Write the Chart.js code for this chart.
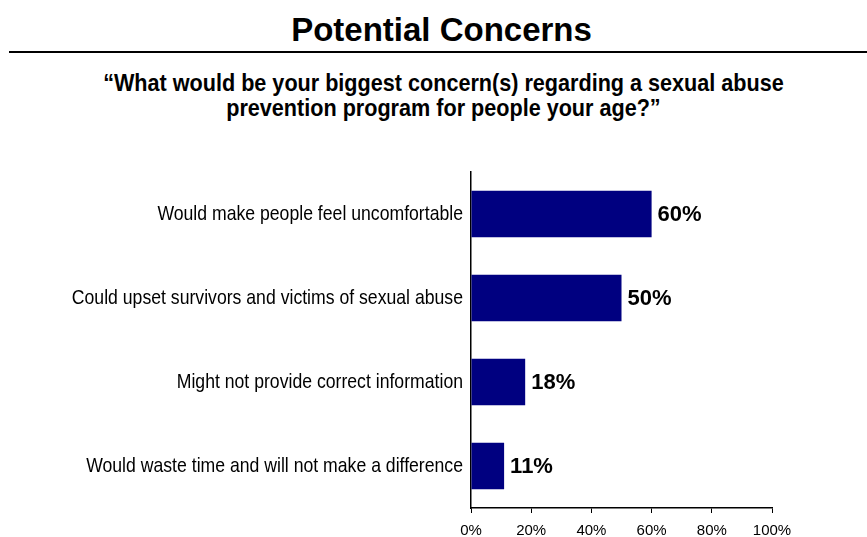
<!DOCTYPE html>
<html>
<head>
<meta charset="utf-8">
<script src="https://cdn.jsdelivr.net/npm/chart.js@4/dist/chart.umd.min.js"></script>
<style>
  html, body { margin: 0; padding: 0; background: #fff; }
  body { width: 867px; height: 537px; position: relative; overflow: hidden; font-family: "Liberation Sans", Arial, sans-serif; color: #000; }
  .title { position: absolute; left: 8px; width: 867px; top: 13px; font-size: 33px; line-height: 33px; font-weight: bold; text-align: center; }
  .rule { position: absolute; left: 9px; right: 0; top: 51px; height: 2px; background: #000; }
  .subtitle { position: absolute; left: 10px; width: 867px; top: 70px; font-size: 24px; line-height: 25px; font-weight: bold; text-align: center; transform: scaleX(0.9); transform-origin: 433px 0; }
  #chartWrap { position: absolute; left: 0; top: 0; width: 867px; height: 537px; }
</style>
</head>
<body>
<div class="title">Potential Concerns</div>
<div class="rule"></div>
<div class="subtitle">“What would be your biggest concern(s) regarding a sexual abuse<br>prevention program for people your age?”</div>
<div id="chartWrap"><canvas id="concernChart"></canvas></div>

<script>
// survey answers, top to bottom
const concerns = [
  "Would make people feel uncomfortable",
  "Could upset survivors and victims of sexual abuse",
  "Might not provide correct information",
  "Would waste time and will not make a difference"
];
const percents = [60, 50, 18, 11];
const axisTicks = [0, 20, 40, 60, 80, 100];

const NAVY = "#000080";

// category labels are drawn a bit narrower than normal text
const concernLabels = {
  id: "concernLabels",
  afterDraw(chart) {
    const { ctx } = chart;
    const y = chart.scales.y;
    ctx.save();
    ctx.fillStyle = "#000";
    ctx.font = "21px 'Liberation Sans', Arial, sans-serif";
    ctx.textAlign = "right";
    ctx.textBaseline = "middle";
    concerns.forEach((label, i) => {
      ctx.save();
      ctx.translate(y.right - 8, y.getPixelForTick(i));
      ctx.scale(0.84, 1);
      ctx.fillText(label, 0, 0);
      ctx.restore();
    });
    ctx.restore();
  }
};

// percentage printed past the end of each bar
const valueLabels = {
  id: "valueLabels",
  afterDatasetsDraw(chart) {
    const { ctx } = chart;
    const meta = chart.getDatasetMeta(0);
    ctx.save();
    ctx.fillStyle = "#000";
    ctx.font = "bold 22px 'Liberation Sans', Arial, sans-serif";
    ctx.textAlign = "left";
    ctx.textBaseline = "middle";
    meta.data.forEach((bar, i) => {
      ctx.fillText(percents[i] + "%", bar.x + 6, bar.y + 1);
    });
    ctx.restore();
  }
};

new Chart(document.getElementById("concernChart"), {
  type: "bar",
  data: {
    labels: concerns,
    datasets: [{
      data: percents,
      backgroundColor: NAVY,
      barPercentage: 0.555,
      categoryPercentage: 1
    }]
  },
  options: {
    indexAxis: "y",
    responsive: true,
    maintainAspectRatio: false,
    animation: false,
    layout: { padding: { top: 172, right: 95, bottom: 0, left: 0 } },
    plugins: {
      legend: { display: false },
      tooltip: { enabled: false }
    },
    scales: {
      x: {
        min: 0,
        max: 100,
        afterBuildTicks: (scale) => {
          scale.ticks = axisTicks.map((v) => ({ value: v }));
        },
        afterFit: (scale) => { scale.height = 29; },
        grid: { display: true, drawOnChartArea: false, drawTicks: true, tickLength: 5, color: "#000", lineWidth: 1 },
        border: { display: true, color: "#000", width: 1.5 },
        ticks: {
          color: "#000",
          padding: 9,
          maxRotation: 0,
          font: { family: "'Liberation Sans', Arial, sans-serif", size: 15 },
          callback: (v) => v + "%"
        }
      },
      y: {
        afterFit: (scale) => { scale.width = 471; },
        grid: { display: false },
        border: { display: true, color: "#000", width: 1.5 },
        ticks: { display: false }
      }
    }
  },
  plugins: [concernLabels, valueLabels]
});
</script>
</body>
</html>
